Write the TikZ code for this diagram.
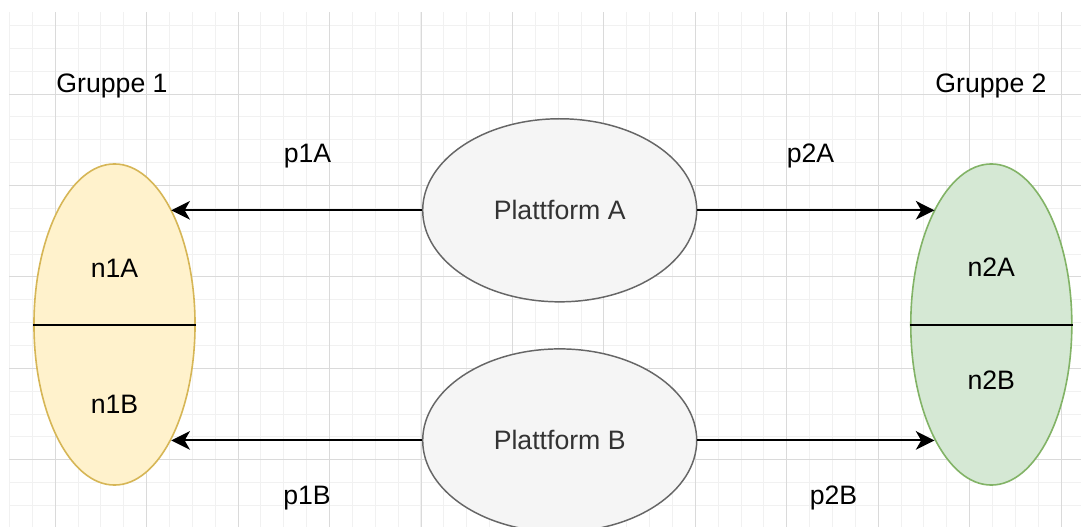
\documentclass[tikz,border=0pt]{standalone}
\usepackage{fontspec}
\setmainfont{Liberation Sans}
\usetikzlibrary{positioning,arrows.meta,shapes.geometric}

\definecolor{gelbfill}{HTML}{FFF2CC}
\definecolor{gelbdraw}{HTML}{D6B656}
\definecolor{gruenfill}{HTML}{D5E8D4}
\definecolor{gruendraw}{HTML}{82B366}
\definecolor{plattfill}{HTML}{F5F5F5}
\definecolor{plattdraw}{HTML}{666666}
\definecolor{platttext}{HTML}{333333}
\definecolor{gridmajor}{HTML}{DADADA}
\definecolor{gridminor}{HTML}{F1F1F1}

\begin{document}
\begin{tikzpicture}[
    x=0.75pt, y=-0.75pt,
    node distance=34.2pt,
    font=\fontsize{20}{24}\selectfont,
 plattform/.style = {
        draw=plattdraw, fill=plattfill, ellipse, line width=1.1pt,
        minimum width=205.5pt, minimum height=137.3pt,
        inner sep=0pt, text=platttext, text height=14.3pt, text depth=0pt},
 gruppe/.style = {
        ellipse, line width=1.2pt, inner sep=0pt,
        minimum width=120.8pt, minimum height=240.8pt},
 mylabel/.style = {
        inner sep=0pt, text height=14.3pt, text depth=0pt},
   arrow/.style = {line width=1.5pt,-{Stealth[length=14pt,width=14pt,inset=4pt]}}
                    ]
\useasboundingbox (0,0) rectangle (1081,527);
% the grid in the background
\fill[white] (0,0) rectangle (1081,527);
\begin{scope}
\clip (9,13) rectangle (1081,527);
\foreach \i in {0,...,47}
    \draw[gridminor, line width=0.75pt] ({9.5+\i*22.86},0) -- ++(0,527);
\foreach \j in {0,...,23}
    \draw[gridminor, line width=0.75pt] (0,{2.6+\j*22.86}) -- ++(1081,0);
\foreach \i in {0,...,11}
    \draw[gridmajor, line width=0.75pt] ({55.2+\i*91.45},0) -- ++(0,527);
\foreach \j in {0,...,5}
    \draw[gridmajor, line width=0.75pt] (0,{2.6+\j*91.45}) -- ++(1081,0);
\end{scope}
% the platforms in the middle
\node (pa) [plattform] at (559.7,210.3) {Plattform A};
\node (pb) [plattform, below=of pa]     {Plattform B};
% the two groups
\node (g1) [gruppe, draw=gelbdraw, fill=gelbfill]   at (114.5,324.5) {};
\node (g2) [gruppe, draw=gruendraw, fill=gruenfill] at (991.3,324.5) {};
\draw[line width=1.5pt] (g1.west) -- (g1.east);
\draw[line width=1.5pt] (g2.west) -- (g2.east);
\node (n1a) [mylabel] at (114.5,268)   {n1A};
\node (n1b) [mylabel] at (114.5,403.5) {n1B};
\node (n2a) [mylabel] at (991.3,267)   {n2A};
\node (n2b) [mylabel] at (991.3,380)   {n2B};
% the titles
\node (t1) [mylabel] at (112,83) {Gruppe 1};
\node (t2) [mylabel] at (991,83) {Gruppe 2};
% the arrows and their labels
\draw[arrow] (pa.west) -- ([xshift=42.6pt] g1.center |- pa.west);
\draw[arrow] (pb.west) -- ([xshift=42.6pt] g1.center |- pb.west);
\draw[arrow] (pa.east) -- ([xshift=-42.6pt] g2.center |- pa.east);
\draw[arrow] (pb.east) -- ([xshift=-42.6pt] g2.center |- pb.east);
\node (p1a) [mylabel] at (307.5,153) {p1A};
\node (p2a) [mylabel] at (810.5,153) {p2A};
\node (p1b) [mylabel] at (307,495)   {p1B};
\node (p2b) [mylabel] at (833.5,495) {p2B};
\end{tikzpicture}
\end{document}
